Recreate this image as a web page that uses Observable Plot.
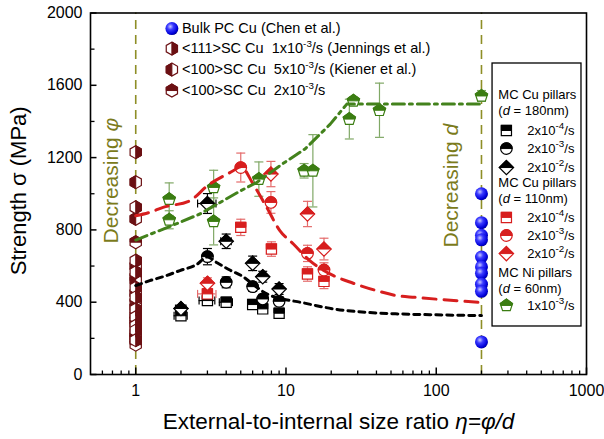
<!DOCTYPE html>
<html><head><meta charset="utf-8">
<script src="https://cdn.jsdelivr.net/npm/d3@7"></script>
<script src="https://cdn.jsdelivr.net/npm/@observablehq/plot@0.6"></script>
<style>
body{margin:0;background:#fff}
#chart svg{font-family:"Liberation Sans",Arial,sans-serif}
</style>
</head><body><div id="chart"></div>
<script>
// ---------------- data ----------------
// Bulk PC Cu (Chen et al.), eta = 200
const bulkX = [200, 200, 200, 200, 200, 200, 200, 200, 200, 200];
const bulkY = [1000, 840, 770, 745, 650, 595, 560, 500, 460, 180];
// single-crystal Cu, eta = 1
const hex111Y = [1230, 925, 630, 566, 480, 427, 360, 317, 270, 243, 190];
const hex100KY = [1064, 861, 600, 520, 450, 372, 330, 282, 230, 197];
const hex100Y = [732, 540, 400, 300, 210, 165];
// MC Cu pillars d = 180nm (black)
const sq180X = [2, 3, 4, 6, 7, 9];
const sq180Y = [325, 409, 400, 387, 363, 339];
const sq180E = [20, 25, 20, 20, 20, 20];
const sq180XE = [0.1, 0.12, 0.1, 0.06, 0.06, 0.06];
const circ180X = [3, 4, 6, 7, 9];
const circ180Y = [652, 510, 486, 418, 405];
const circ180E = [45, 30, 25, 25, 25];
const dia180X = [2, 3, 4, 6, 7, 9];
const dia180Y = [365, 946, 737, 615, 541, 473];
const dia180E = [20, 55, 40, 40, 30, 30];
const dia180XE = [0.08, 0.14, 0.08, 0, 0, 0];
// MC Cu pillars d = 110nm (red)
const sq110X = [3, 5, 8, 13.9, 17.9];
const sq110Y = [446, 814, 694, 556, 515];
const sq110E = [30, 45, 40, 40, 40];
const sq110XE = [0.14, 0, 0, 0, 0];
const circ110X = [5, 7.94, 13.9, 17.9];
const circ110Y = [1145, 952, 670, 578];
const circ110E = [80, 60, 45, 40];
const dia110X = [3, 7.94, 13.9, 17.9];
const dia110Y = [505, 1109, 888, 694];
const dia110E = [30, 70, 70, 60];
// MC Ni pillars d = 60nm (green)
const niX = [1.67, 1.67, 3.3, 3.3, 6.6, 13.2, 15.1, 26.4, 28.1, 41.9, 200];
const niY = [970, 856, 1035, 847, 1081, 1127, 1127, 1413, 1514, 1462, 1541];
const niE = [90, 50, 95, 130, 95, 40, 200, 110, 20, 150, 30];
// fitted curves
const blackFitX = [1, 1.24, 1.52, 1.97, 2.54, 3, 3.45, 4.23, 5.18, 6, 7.45, 9.5, 12.4, 20.7, 34, 57, 100, 200];
const blackFitY = [492, 519, 541, 575, 608, 650, 620, 578, 541, 500, 446, 418, 400, 363, 344, 335, 330, 326];
const redFitX = [1, 1.24, 1.52, 2.29, 3.0, 4.45, 5.0, 6.05, 7.45, 9.1, 11.2, 14.4, 20.7, 28, 40, 55, 72, 200];
const redFitY = [878, 897, 925, 961, 1044, 1127, 1150, 1053, 924, 796, 722, 630, 547, 505, 464, 436, 427, 398];
const greenFitX = [1, 1.63, 2.67, 5, 6.38, 9.58, 13.4, 19.7, 25.4, 200];
const greenFitY = [744, 814, 888, 1017, 1062, 1168, 1248, 1385, 1496, 1496];
// axes
const xTicks = [1, 10, 100, 1000];
const xMinor = [0.6, 0.7, 0.8, 0.9, 2, 3, 4, 5, 6, 7, 8, 9, 20, 30, 40, 50, 60, 70, 80, 90, 200, 300, 400, 500, 600, 700, 800, 900];
const yTicks = [0, 400, 800, 1200, 1600, 2000];
const yMinor = [200, 600, 1000, 1400, 1800];
const guideX = [1, 200];
// legend texts
const topLegend = [
  "Bulk PC Cu (Chen et al.)",
  "<111>SC Cu  1x10^{-3}/s (Jennings et al.)",
  "<100>SC Cu  5x10^{-3}/s (Kiener et al.)",
  "<100>SC Cu  2x10^{-3}/s"
];
const boxHeaders = ["MC Cu pillars", "(*d* = 180nm)", "MC Cu pillars", "(*d* = 110nm)", "MC Ni pillars", "(*d* = 60nm)"];
const rateLabels = ["2x10^{-4}/s", "2x10^{-3}/s", "2x10^{-2}/s", "2x10^{-4}/s", "2x10^{-3}/s", "2x10^{-2}/s", "1x10^{-3}/s"];

// ---------------- styles ----------------
const BLACK = "#000", RED = "#d71e1e", REDE = "#e46b6b", GREEN = "#3b7d12", GREENE = "#80a866",
      GREENL = "#43821c", HEX = "#6b1013", OLIVE = "#8e8e26", OLIVET = "#7b7b1c";

// ---------------- symbols ----------------
const S = f => ({draw(ctx, size) { f(ctx, Math.sqrt(size / Math.PI)); }});
const poly = (c, p) => { c.moveTo(p[0][0], p[0][1]); for (let i = 1; i < p.length; i++) c.lineTo(p[i][0], p[i][1]); c.closePath(); };
const hc = Math.cos(Math.PI / 6);
const symSquare = S((c, r) => { const s = r * 0.85; c.rect(-s, -s, 2 * s, 2 * s); });
const symSquareTop = S((c, r) => { const s = r * 0.85; c.rect(-s, -s, 2 * s, s); });
const symCircle = S((c, r) => { c.moveTo(r, 0); c.arc(0, 0, r, 0, 2 * Math.PI); });
const symCircleTop = S((c, r) => { c.moveTo(-r, 0); c.arc(0, 0, r, Math.PI, 2 * Math.PI); c.closePath(); });
const symDiamond = S((c, r) => { const d = r * 1.2; poly(c, [[0, -d], [d, 0], [0, d], [-d, 0]]); });
const symDiamondTop = S((c, r) => { const d = r * 1.2; poly(c, [[0, -d], [d, 0], [-d, 0]]); });
const symHex = S((c, r) => poly(c, [[0, -r], [r * hc, -r / 2], [r * hc, r / 2], [0, r], [-r * hc, r / 2], [-r * hc, -r / 2]]));
const symHexRight = S((c, r) => poly(c, [[0, -r], [r * hc, -r / 2], [r * hc, r / 2], [0, r]]));
const symHexLeft = S((c, r) => poly(c, [[0, -r], [-r * hc, -r / 2], [-r * hc, r / 2], [0, r]]));
const symHexTop = S((c, r) => poly(c, [[-r * hc, 0], [-r * hc, -r / 2], [0, -r], [r * hc, -r / 2], [r * hc, 0]]));
const symPent = S((c, r) => poly(c, [[0, -r], [0.951 * r, -0.309 * r], [0.588 * r, 0.809 * r], [-0.588 * r, 0.809 * r], [-0.951 * r, -0.309 * r]]));
const symPentTop = S((c, r) => poly(c, [[0, -r], [0.951 * r, -0.309 * r], [0.851 * r, 0], [-0.851 * r, 0], [-0.951 * r, -0.309 * r]]));
const symTickUp = S((c, r) => { c.moveTo(0, 0); c.lineTo(0, -r); });
const symTickRight = S((c, r) => { c.moveTo(0, 0); c.lineTo(r, 0); });
const symHCap = S((c, r) => { c.moveTo(-r, 0); c.lineTo(r, 0); });
const symVCap = S((c, r) => { c.moveTo(0, -r); c.lineTo(0, r); });

// ---------------- helpers ----------------
function rows(xs, ys, es, xes) {
  return xs.map((x, i) => ({x, y: ys[i], e: es ? es[i] : 0, xe: xes ? xes[i] : 0}));
}
function marker(data, full, half, color, r) {
  return [
    Plot.dot(data, {x: "x", y: "y", symbol: full, r, fill: "white", stroke: color, strokeWidth: 1.2}),
    Plot.dot(data, {x: "x", y: "y", symbol: half, r, fill: color, stroke: color, strokeWidth: 1})
  ];
}
function errorBars(data, color) {
  const v = data.filter(d => d.e > 0), h = data.filter(d => d.xe > 0);
  return [
    Plot.ruleX(v, {x: "x", y1: d => d.y - d.e, y2: d => d.y + d.e, stroke: color, strokeWidth: 1.2}),
    Plot.dot(v, {x: "x", y: d => d.y + d.e, symbol: symHCap, r: 4.5, fill: "none", stroke: color, strokeWidth: 1.2}),
    Plot.dot(v, {x: "x", y: d => d.y - d.e, symbol: symHCap, r: 4.5, fill: "none", stroke: color, strokeWidth: 1.2}),
    Plot.ruleY(h, {y: "y", x1: d => d.x * (1 - d.xe), x2: d => d.x * (1 + d.xe), stroke: color, strokeWidth: 1.2}),
    Plot.dot(h, {x: d => d.x * (1 - d.xe), y: "y", symbol: symVCap, r: 4, fill: "none", stroke: color, strokeWidth: 1.2}),
    Plot.dot(h, {x: d => d.x * (1 + d.xe), y: "y", symbol: symVCap, r: 4, fill: "none", stroke: color, strokeWidth: 1.2})
  ];
}
function fit(xs, ys) { return xs.map((x, i) => ({x, y: ys[i]})); }

// ---------------- series ----------------
const sq180 = rows(sq180X, sq180Y, sq180E, sq180XE);
const circ180 = rows(circ180X, circ180Y, circ180E);
const dia180 = rows(dia180X, dia180Y, dia180E, dia180XE);
const sq110 = rows(sq110X, sq110Y, sq110E, sq110XE);
const circ110 = rows(circ110X, circ110Y, circ110E);
const dia110 = rows(dia110X, dia110Y, dia110E);
const ni = rows(niX, niY, niE);
const bulk = rows(bulkX, bulkY);
const h111 = hex111Y.map(y => ({x: 1, y}));
const h100K = hex100KY.map(y => ({x: 1, y}));
const h100 = hex100Y.map(y => ({x: 1, y}));

// legend layout (data coordinates)
const topMarkX = 1.74, topTextX = 2.03, topRowsY = [1914, 1803, 1687, 1571];
const boxHeadX = 259, boxMarkX = 293, boxTextX = 404;
const boxHeadY = [1549, 1461, 1062, 974, 564, 476];
const boxRowY = [1350, 1250, 1145, 869, 769, 669, 382];

const sphereDefs = () => {
  const defs = d3.create("svg:defs");
  const g = defs.append("radialGradient").attr("id", "sph").attr("cx", "0.38").attr("cy", "0.35").attr("r", "0.7");
  g.append("stop").attr("offset", "0").attr("stop-color", "#c8c8ff");
  g.append("stop").attr("offset", "0.35").attr("stop-color", "#3a3aff");
  g.append("stop").attr("offset", "0.8").attr("stop-color", "#0000d8");
  g.append("stop").attr("offset", "1").attr("stop-color", "#00008c");
  return defs.node();
};

const chart = Plot.plot({
  width: 604, height: 439,
  marginLeft: 90, marginRight: 18, marginTop: 12.5, marginBottom: 65,
  x: {type: "log", domain: [0.5, 1000]},
  y: {domain: [0, 2000]},
  style: {fontFamily: "'Liberation Sans', Arial, sans-serif", fontSize: "16px", color: "black", background: "white", overflow: "visible"},
  marks: [
    sphereDefs,
    Plot.ruleX(guideX, {x: d => d, y1: () => 0, y2: () => 2000, stroke: OLIVE, strokeWidth: 1.6, strokeDasharray: "9,6"}),
    // hexagons eta = 1
    ...marker(h100, symHex, symHexTop, HEX, 6.5),
    ...marker(h100K, symHex, symHexLeft, HEX, 6.5),
    ...marker(h111, symHex, symHexRight, HEX, 6.5),
    // error bars
    ...errorBars(ni, GREENE),
    ...errorBars(sq180, BLACK), ...errorBars(circ180, BLACK), ...errorBars(dia180, BLACK),
    ...errorBars(sq110, REDE), ...errorBars(circ110, REDE), ...errorBars(dia110, REDE),
    // markers
    ...marker(ni, symPent, symPentTop, GREEN, 6.5),
    ...marker(sq180, symSquare, symSquareTop, BLACK, 6),
    ...marker(circ180, symCircle, symCircleTop, BLACK, 5.8),
    ...marker(dia180, symDiamond, symDiamondTop, BLACK, 6),
    ...marker(sq110, symSquare, symSquareTop, RED, 6),
    ...marker(circ110, symCircle, symCircleTop, RED, 5.8),
    ...marker(dia110, symDiamond, symDiamondTop, RED, 6),
    Plot.dot(bulk, {x: "x", y: "y", r: 6.5, fill: "url(#sph)"}),
    // fits
    Plot.line(fit(blackFitX, blackFitY), {x: "x", y: "y", curve: "monotone-x", stroke: BLACK, strokeWidth: 3, strokeDasharray: "6,5"}),
    Plot.line(fit(redFitX, redFitY), {x: "x", y: "y", curve: "monotone-x", stroke: RED, strokeWidth: 3, strokeDasharray: "13,8"}),
    Plot.line(fit(greenFitX, greenFitY), {x: "x", y: "y", curve: "linear", stroke: GREENL, strokeWidth: 3, strokeDasharray: "12,5,3,5"}),
    // annotations
    Plot.text(["Decreasing *φ*"], {x: () => 0.692, y: () => 1073, rotate: -90, fontSize: 21, fill: OLIVET}),
    Plot.text(["Decreasing *d*"], {x: () => 126, y: () => 1045, rotate: -90, fontSize: 21, fill: OLIVET}),
    // top legend
    Plot.dot([topLegend[0]], {x: () => topMarkX, y: () => topRowsY[0], r: 6.5, fill: "url(#sph)"}),
    ...marker([{x: topMarkX, y: topRowsY[1]}], symHex, symHexRight, HEX, 6.5),
    ...marker([{x: topMarkX, y: topRowsY[2]}], symHex, symHexLeft, HEX, 6.5),
    ...marker([{x: topMarkX, y: topRowsY[3]}], symHex, symHexTop, HEX, 6.5),
    Plot.text(topLegend, {x: () => topTextX, y: (d, i) => topRowsY[i], text: d => d, textAnchor: "start", fontSize: 14.5}),
    // right legend box
    Plot.rect([0], {x1: () => 237, x2: () => 926, y1: () => 265.6, y2: () => 1720.6, fill: "white", stroke: "black", strokeWidth: 1.3}),
    Plot.text(boxHeaders, {x: () => boxHeadX, y: (d, i) => boxHeadY[i], text: d => d, textAnchor: "start", fontSize: 13}),
    Plot.text(rateLabels, {x: () => boxTextX, y: (d, i) => boxRowY[i], text: d => d, textAnchor: "start", fontSize: 13}),
    ...marker([{x: boxMarkX, y: boxRowY[0]}], symSquare, symSquareTop, BLACK, 6),
    ...marker([{x: boxMarkX, y: boxRowY[1]}], symCircle, symCircleTop, BLACK, 5.8),
    ...marker([{x: boxMarkX, y: boxRowY[2]}], symDiamond, symDiamondTop, BLACK, 6),
    ...marker([{x: boxMarkX, y: boxRowY[3]}], symSquare, symSquareTop, RED, 6),
    ...marker([{x: boxMarkX, y: boxRowY[4]}], symCircle, symCircleTop, RED, 5.8),
    ...marker([{x: boxMarkX, y: boxRowY[5]}], symDiamond, symDiamondTop, RED, 6),
    ...marker([{x: boxMarkX, y: boxRowY[6]}], symPent, symPentTop, GREEN, 6.5),
    // axes
    Plot.frame({stroke: "black", strokeWidth: 1.6}),
    Plot.dot(xTicks, {x: d => d, y: () => 0, symbol: symTickUp, r: 7, fill: "none", stroke: "black", strokeWidth: 1.5}),
    Plot.dot(xMinor, {x: d => d, y: () => 0, symbol: symTickUp, r: 4, fill: "none", stroke: "black", strokeWidth: 1.3}),
    Plot.dot(yTicks, {x: () => 0.5, y: d => d, symbol: symTickRight, r: 6, fill: "none", stroke: "black", strokeWidth: 1.5}),
    Plot.dot(yMinor, {x: () => 0.5, y: d => d, symbol: symTickRight, r: 4, fill: "none", stroke: "black", strokeWidth: 1.3}),
    Plot.axisX({ticks: xTicks, tickFormat: d => String(d), tickSize: 0, tickPadding: 10, fontSize: 16, label: null}),
    Plot.axisY({ticks: yTicks, tickFormat: d => String(d), tickSize: 0, tickPadding: 8, fontSize: 16, label: null}),
    Plot.text(["External-to-internal size ratio *η=φ/d*"], {frameAnchor: "bottom", dy: 47, textAnchor: "middle", lineAnchor: "middle", fontSize: 22.5}),
    Plot.text(["Strength σ (MPa)"], {frameAnchor: "left", dx: -72, dy: -3, rotate: -90, textAnchor: "middle", lineAnchor: "middle", fontSize: 22})
  ]
});

// rich text: ^{...} superscript, *...* italic
const NS = "http://www.w3.org/2000/svg";
chart.querySelectorAll("text").forEach(el => {
  const s = el.textContent;
  if (!/\^\{|\*/.test(s)) return;
  const fs = parseFloat(getComputedStyle(el).fontSize) || 14;
  el.textContent = "";
  const re = /\^\{([^}]*)\}|\*([^*]*)\*|([^\^*]+)/g;
  let m, shift = 0;
  while ((m = re.exec(s))) {
    const t = document.createElementNS(NS, "tspan");
    if (m[1] !== undefined) {
      t.textContent = m[1];
      t.setAttribute("font-size", (fs * 0.7) + "px");
      t.setAttribute("dy", (-fs * 0.42) + "px");
      shift = fs * 0.42;
    } else {
      t.textContent = m[2] !== undefined ? m[2] : m[3];
      if (m[2] !== undefined) t.setAttribute("font-style", "italic");
      if (shift) { t.setAttribute("dy", shift + "px"); shift = 0; }
    }
    el.appendChild(t);
  }
});
document.getElementById("chart").appendChild(chart);
</script>
</body></html>
